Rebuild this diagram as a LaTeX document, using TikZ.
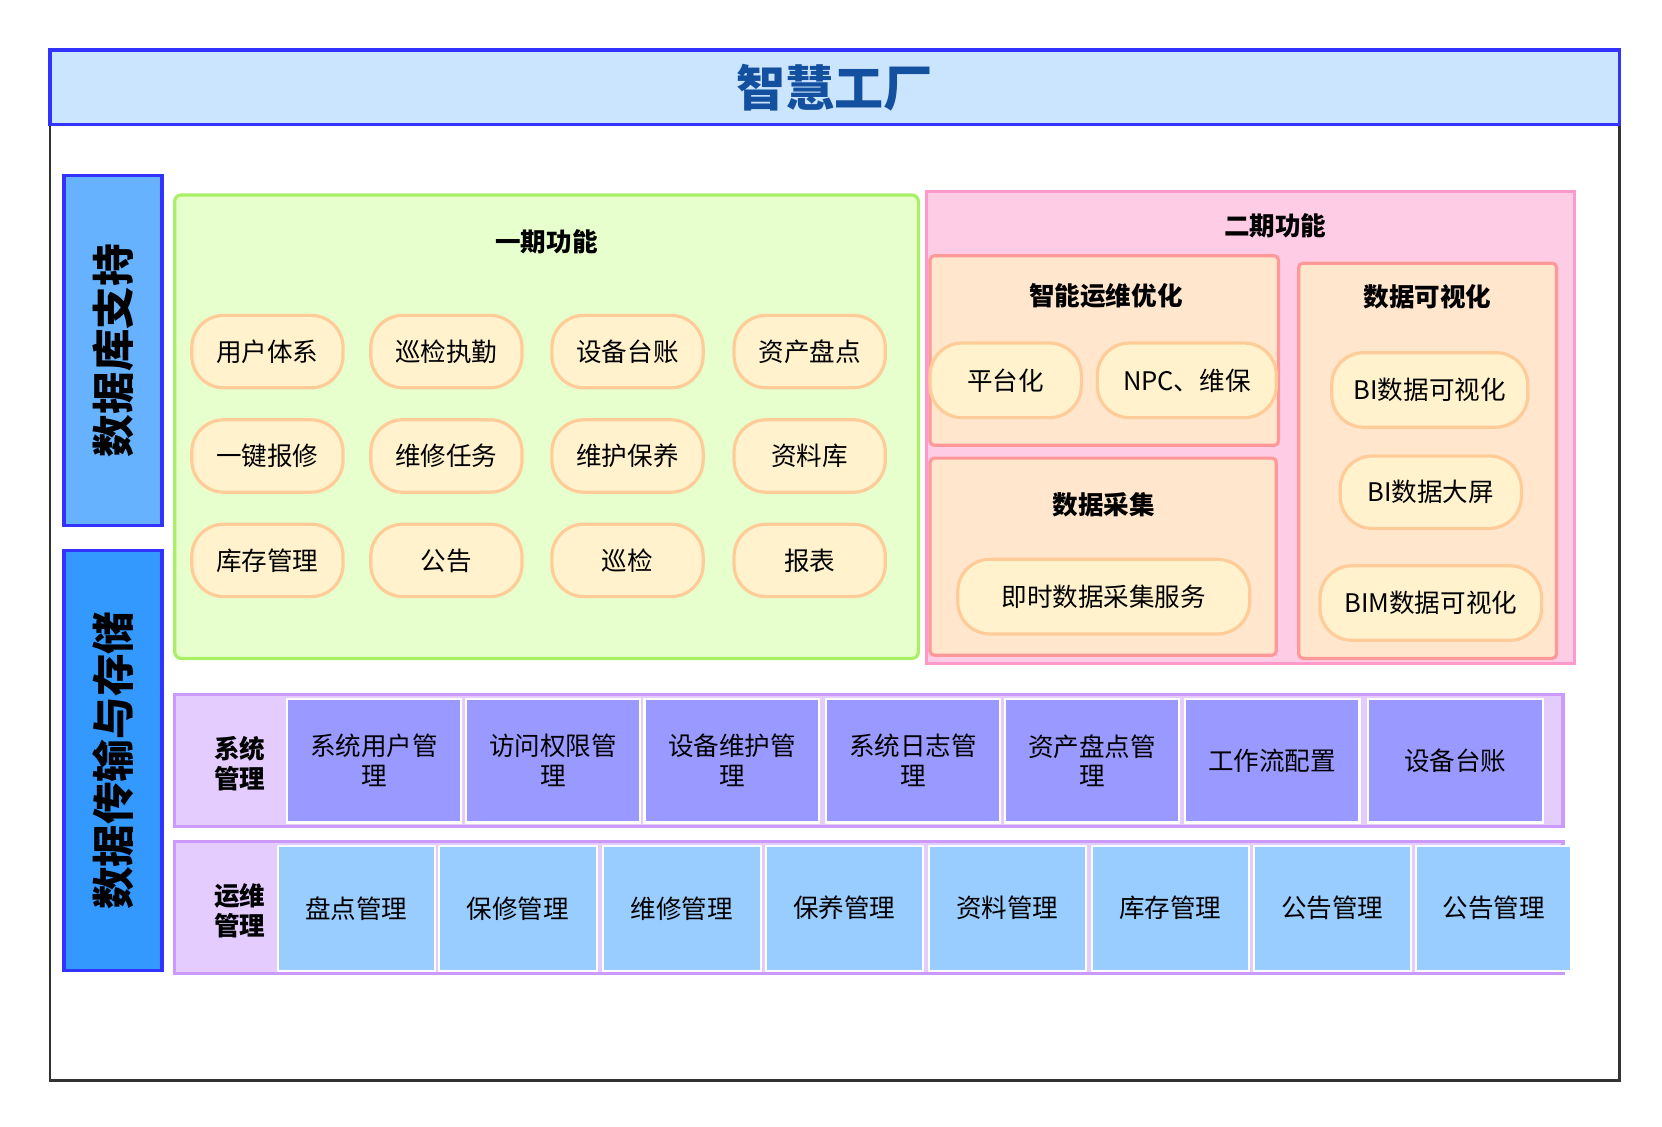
\documentclass[tikz,border=0pt]{standalone}
\usepackage{fontspec}
\setmainfont{Noto Sans CJK SC}
\begin{document}
\begin{tikzpicture}[x=0.5pt,y=-0.5pt,
 pill/.style={draw=#1!100,line width=1.5pt,rounded corners=15pt,fill=pillf,inner sep=0pt,font=\fontsize{12}{14}\selectfont},
 pill/.default=pillb,
 cell/.style={fill=#1,draw=white,line width=1pt,font=\fontsize{12}{14}\selectfont,align=center,inner sep=0pt},
 ttl/.style={font=\bfseries\fontsize{12}{14}\selectfont},
 side/.style={draw=sideb,line width=1.5pt,font=\bfseries\fontsize{20}{22}\selectfont,inner sep=0pt}]
\definecolor{pillf}{HTML}{FFF2CC}\definecolor{pillb}{HTML}{FFCC99}
\definecolor{sideb}{HTML}{3333FF}
\useasboundingbox (0,0) rectangle (1560,1057);
\fill[white] (0,0) rectangle (1560,1057);
% frame
\draw[line width=1.2pt,black!80] (47,47) rectangle (1520,1014);
\node[draw=sideb,line width=1.5pt,fill={rgb,255:red,204;green,229;blue,255},minimum width=736.5pt,minimum height=35pt,inner sep=0pt,text={rgb,255:red,20;green,80;blue,160},font=\bfseries\fontsize{23}{26}\selectfont] (title) at (783.5,82) {智慧工厂};
% side bars
\path[side,fill={rgb,255:red,102;green,178;blue,255}] (60,165) rectangle (152,493);
\node[rotate=90,font=\bfseries\fontsize{20}{22}\selectfont] (s1) at (106,329) {数据库支持};
\path[side,fill={rgb,255:red,51;green,153;blue,255}] (60,517) rectangle (152,911);
\node[rotate=90,font=\bfseries\fontsize{20}{22}\selectfont] (s2) at (106,714) {数据传输与存储};
% phase 1
\draw[line width=1.5pt,draw={rgb,255:red,170;green,240;blue,100},fill={rgb,255:red,230;green,255;blue,204},rounded corners=3pt] (164,183) rectangle (862,618);
\node[ttl] (p1) at (513,227) {一期功能};
\foreach \t [count=\i] in {用户体系,巡检执勤,设备台账,资产盘点}{
 \pgfmathsetmacro\xx{{251,419,589,760}[\i-1]}
 \node[pill,minimum width=71pt,minimum height=34pt] (a\i) at (\xx,330) {\t};}
\foreach \t [count=\i] in {一键报修,维修任务,维护保养,资料库}{
 \pgfmathsetmacro\xx{{251,419,589,760}[\i-1]}
 \node[pill,minimum width=71pt,minimum height=34pt] (b\i) at (\xx,428) {\t};}
\foreach \t [count=\i] in {库存管理,公告,巡检,报表}{
 \pgfmathsetmacro\xx{{251,419,589,760}[\i-1]}
 \node[pill,minimum width=71pt,minimum height=34pt] (c\i) at (\xx,526) {\t};}
% phase 2
\definecolor{subf}{HTML}{FFE6CC}\definecolor{subb}{HTML}{FF9999}
\draw[line width=1.5pt,draw={rgb,255:red,255;green,153;blue,204},fill={rgb,255:red,255;green,204;blue,230}] (870,180) rectangle (1478,623);
\node[ttl] (p2) at (1197,212) {二期功能};
\draw[line width=1.5pt,draw=subb,fill=subf,rounded corners=2pt] (873,240) rectangle (1200,418);
\node[ttl] (g1) at (1038,278) {智能运维优化};
\node[pill,minimum width=71pt,minimum height=35pt] (q1) at (944,357) {平台化};
\node[pill,minimum width=84pt,minimum height=35pt] (q2) at (1114,357) {NPC、维保};
\draw[line width=1.5pt,draw=subb,fill=subf,rounded corners=2pt] (873,430) rectangle (1198,615);
\node[ttl] (g2) at (1036,474) {数据采集};
\node[pill,minimum width=137pt,minimum height=35pt] (q3) at (1036,560) {即时数据采集服务};
\draw[line width=1.5pt,draw=subb,fill=subf,rounded corners=2pt] (1219,247) rectangle (1461,618);
\node[ttl] (g3) at (1340,279) {数据可视化};
\node[pill,minimum width=92pt,minimum height=35pt] (v1) at (1342,366) {BI数据可视化};
\node[pill,minimum width=85pt,minimum height=34pt] (v2) at (1343,462) {BI数据大屏};
\node[pill,minimum width=104pt,minimum height=35pt] (v3) at (1343,566) {BIM数据可视化};
% system row
\draw[line width=1.5pt,draw={rgb,255:red,204;green,153;blue,255},fill={rgb,255:red,229;green,204;blue,255}] (164,652) rectangle (1467,776);
\node[ttl,align=center] (r1) at (225,717) {系统\\管理};
\definecolor{cA}{HTML}{9999FF}
\foreach \a/\b/\t [count=\i] in {269/433/系统用户管\\理,437/601/访问权限管\\理,605/769/设备维护管\\理,775/939/系统日志管\\理,943/1107/资产盘点管\\理,1112/1276/工作流配置,1284/1448/设备台账}{
 \node[cell=cA,minimum width={(\b-\a)*0.5pt},minimum height=58pt] (s\i) at ({(\a+\b)/2},714) {\t};}
% ops row
\draw[line width=1.5pt,draw={rgb,255:red,204;green,153;blue,255},fill={rgb,255:red,229;green,204;blue,255}] (164,790) rectangle (1467,914);
\node[ttl,align=center] (r2) at (225,855) {运维\\管理};
\definecolor{cB}{HTML}{99CCFF}
\foreach \a/\b/\t [count=\i] in {261/408/盘点管理,412/560/保修管理,566/714/维修管理,719/866/保养管理,872/1019/资料管理,1025/1172/库存管理,1177/1324/公告管理,1329/1475/公告管理}{
 \node[cell=cB,minimum width={(\b-\a)*0.5pt},minimum height=58.5pt] (o\i) at ({(\a+\b)/2},852.5) {\t};}
\end{tikzpicture}
\end{document}
